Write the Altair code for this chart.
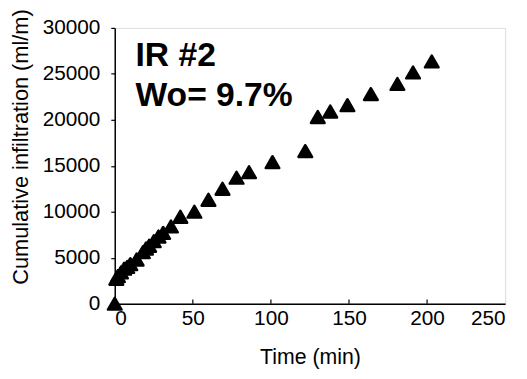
import altair as alt
import pandas as pd

time_min = [0, 1, 2, 4, 6, 8, 10, 14, 18, 20, 22, 25, 28, 31, 36, 42, 51, 60, 69, 78, 86, 101, 122, 130, 138, 149, 164, 181, 191, 203]
cum_inf = [0, 2700, 3000, 3400, 3800, 4000, 4300, 4800, 5600, 6000, 6300, 6800, 7300, 7700, 8400, 9450, 10000, 11300, 12500, 13700, 14300, 15400, 16600, 20300, 20900, 21600, 22800, 23900, 25150, 26350]

x_ticks = [0, 50, 100, 150, 200, 250]
y_ticks = [0, 5000, 10000, 15000, 20000, 25000, 30000]
inner_ticks = [50, 100, 150, 200]

ann_text = ["IR #2", "Wo= 9.7%"]
ann_x = [13.3, 13.3]
ann_y = [25850, 21500]

FONT = "Liberation Sans"

df = pd.DataFrame({"t": time_min, "c": cum_inf})
tick_df = pd.DataFrame({"t": inner_ticks, "y0": [0] * len(inner_ticks), "y1": [450] * len(inner_ticks)})
ann_df = pd.DataFrame({"txt": ann_text, "t": ann_x, "c": ann_y})

xscale = alt.Scale(domain=[0, 250], nice=False)
yscale = alt.Scale(domain=[0, 30000], nice=False)

points = alt.Chart(df).mark_point(
    shape="triangle-up", filled=True, color="black", size=190,
    stroke="black", strokeWidth=2.5, strokeJoin="round", opacity=1
).encode(
    x=alt.X("t:Q", scale=xscale, title="Time (min)",
            axis=alt.Axis(values=x_ticks, tickSize=0, labelPadding=4, titlePadding=19, format="d",
                          grid=False, domainColor="black", labelColor="black", titleColor="black",
                          labelFont=FONT, titleFont=FONT, labelFontSize=21, titleFontSize=21.5,
                          titleFontWeight="normal", domainWidth=1.5)),
    y=alt.Y("c:Q", scale=yscale, title="Cumulative infiltration (ml/m)",
            axis=alt.Axis(values=y_ticks, tickSize=4, tickColor="black", tickWidth=1.2, format="d",
                          labelPadding=11, grid=False, domainColor="black",
                          labelColor="black", titleColor="black",
                          labelFont=FONT, titleFont=FONT, labelFontSize=21, titleFontSize=22,
                          titleFontWeight="normal", domainWidth=1.5,
                          titleX=-95, titleY=120, titleBaseline="middle")),
)

ticks = alt.Chart(tick_df).mark_rule(color="black", strokeWidth=1.2).encode(
    x=alt.X("t:Q", scale=xscale),
    y=alt.Y("y0:Q", scale=yscale),
    y2="y1:Q",
)

ann = alt.Chart(ann_df).mark_text(
    align="left", baseline="alphabetic", font=FONT, fontSize=34, fontWeight="bold", color="black"
).encode(
    x=alt.X("t:Q", scale=xscale),
    y=alt.Y("c:Q", scale=yscale),
    text="txt:N",
)

chart = alt.layer(ticks, points, ann).properties(
    width=395, height=279,
    autosize=alt.AutoSizeParams(type="none"),
    padding={"left": 108, "top": 18, "right": 14, "bottom": 66},
).configure_view(stroke="black", strokeWidth=1.5).configure(background="white")

chart.save("out.html", embed_options={"renderer": "svg", "actions": False})
